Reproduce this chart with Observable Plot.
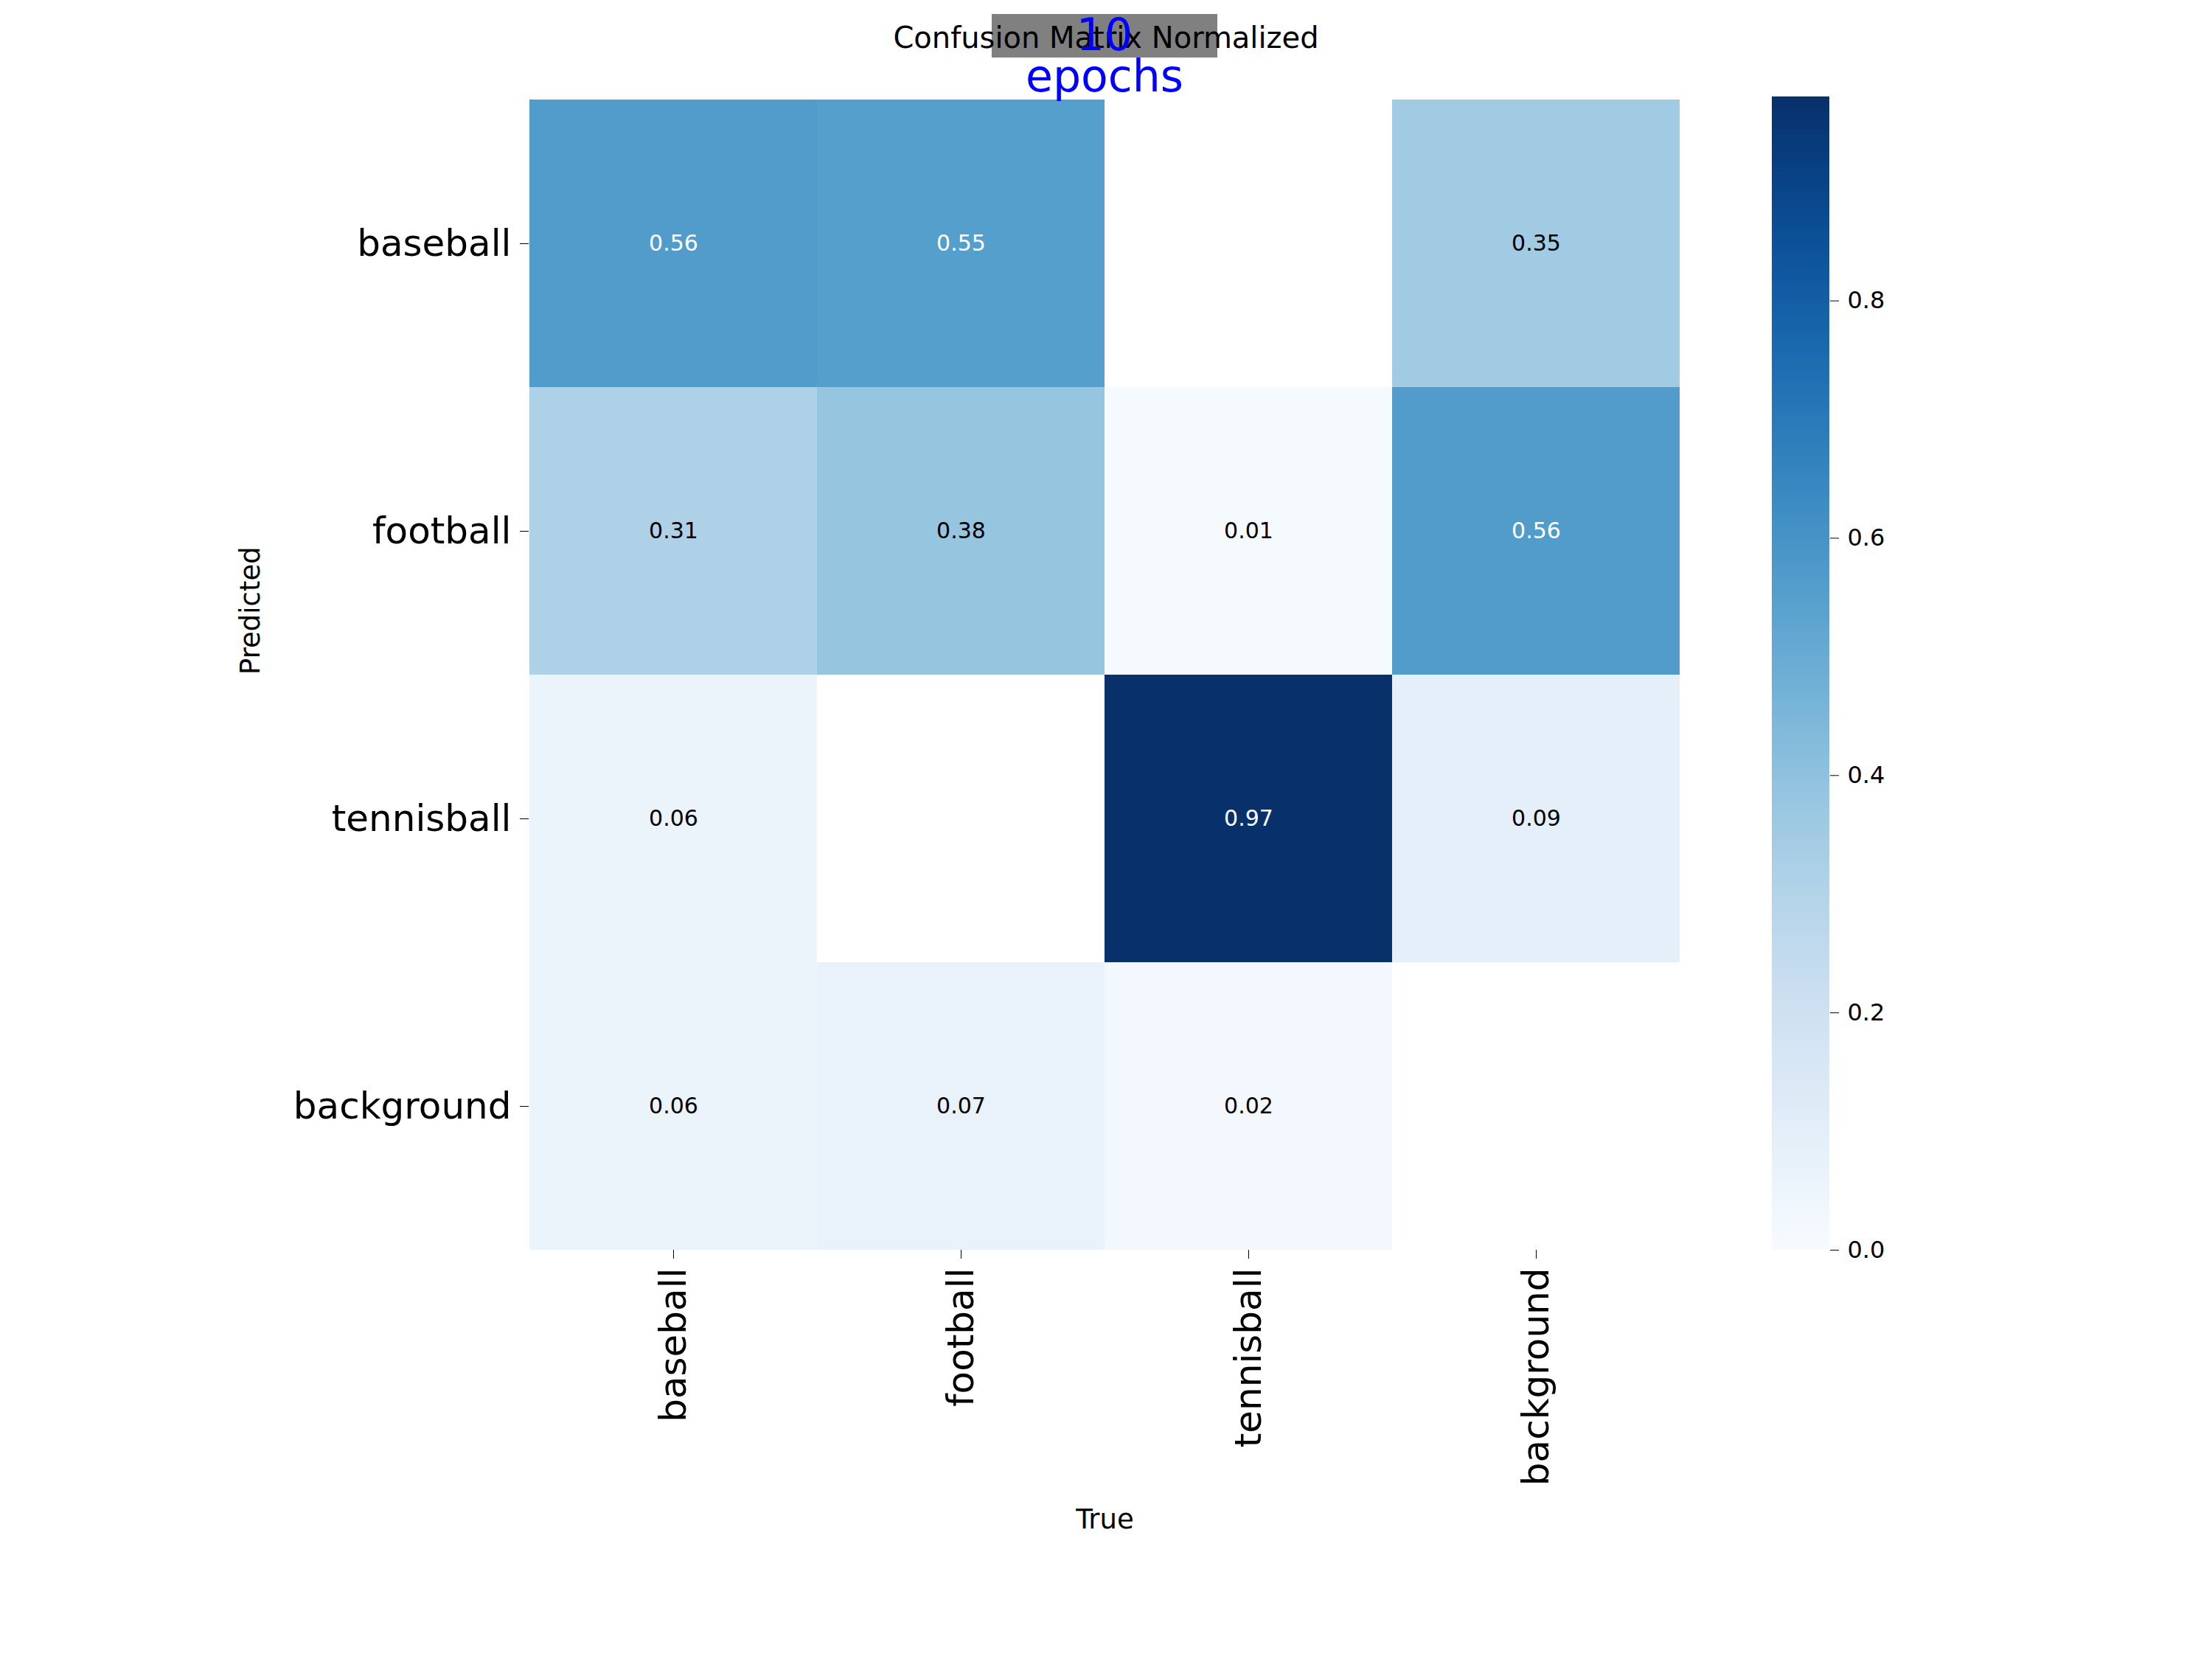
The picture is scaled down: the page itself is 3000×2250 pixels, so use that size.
<!DOCTYPE html>
<html>
<head>
<meta charset="utf-8">
<script src="https://cdn.jsdelivr.net/npm/d3@7"></script>
<script src="https://cdn.jsdelivr.net/npm/@observablehq/plot@0.6"></script>
<style>
  body { margin: 0; background: #fff; font-family: "DejaVu Sans", sans-serif; }
  #wrap { position: relative; width: 3000px; height: 2250px; }
  #wrap > div { position: absolute; }
</style>
</head>
<body>
<div id="wrap">
  <div id="chart" style="left:0;top:0"></div>
  <div id="bar" style="left:0;top:0"></div>
  <div style="left:1345px;top:19px;width:306px;height:59px;background:#808080;"></div>
  <div style="left:0;top:28px;width:3000px;text-align:center;font-size:40px;">Confusion Matrix Normalized</div>
  <div style="left:1345px;top:19px;width:306px;height:59px;color:#0000ff;font-size:60px;line-height:56px;text-align:center;">10 epochs</div>
</div>
<script>
const classes = ["baseball", "football", "tennisball", "background"];
// rows = predicted, columns = true
const baseballRow = [0.56, 0.55, 0, 0.35];
const footballRow = [0.31, 0.38, 0.01, 0.56];
const tennisballRow = [0.06, 0, 0.97, 0.09];
const backgroundRow = [0.06, 0.07, 0.02, 0];
const colorMax = 0.97;
const barTicks = [0, 0.2, 0.4, 0.6, 0.8];

const rows = [baseballRow, footballRow, tennisballRow, backgroundRow];
const cells = [];
rows.forEach((r, i) => r.forEach((v, j) => {
  if (v > 0) cells.push({pred: classes[i], truth: classes[j], v});
}));

const chart = Plot.plot({
  width: 2279, height: 2250,
  marginLeft: 717, marginRight: 0, marginTop: 134, marginBottom: 555,
  style: {fontFamily: "DejaVu Sans", background: "transparent"},
  x: {domain: classes, padding: 0, label: null},
  y: {domain: classes, padding: 0, label: null},
  color: {type: "linear", scheme: "blues", domain: [0, colorMax]},
  marks: [
    Plot.cell(cells, {x: "truth", y: "pred", fill: "v"}),
    Plot.text(cells, {x: "truth", y: "pred", text: d => d.v.toFixed(2), fontSize: 30,
      fill: d => d.v > 0.45 ? "white" : "black"}),
    Plot.axisX({tickRotate: -90, tickSize: 12, tickPadding: 12, fontSize: 50, label: null}),
    Plot.axisY({tickSize: 12, tickPadding: 12, fontSize: 50, label: null}),
    Plot.text(["True"], {frameAnchor: "bottom", dy: 377, fontSize: 37}),
    Plot.text(["Predicted"], {frameAnchor: "left", dx: -377, rotate: -90, fontSize: 37})
  ]
});
document.getElementById("chart").append(chart);

const steps = d3.range(0, colorMax, colorMax / 300);
const bar = Plot.plot({
  width: 2640, height: 2250,
  marginLeft: 2403, marginRight: 159, marginTop: 134, marginBottom: 555,
  style: {fontFamily: "DejaVu Sans", background: "transparent"},
  x: {axis: null, domain: [0, 1]},
  y: {domain: [0, colorMax], label: null},
  color: {type: "linear", scheme: "blues", domain: [0, colorMax]},
  marks: [
    Plot.rect(steps, {x1: 0, x2: 1, y1: d => d, y2: d => d + colorMax / 300 + 0.002, fill: d => d}),
    Plot.axisY({anchor: "right", ticks: barTicks, tickFormat: d3.format(".1f"), tickSize: 12, tickPadding: 12, fontSize: 32, label: null})
  ]
});
document.getElementById("bar").append(bar);
</script>
</body>
</html>
